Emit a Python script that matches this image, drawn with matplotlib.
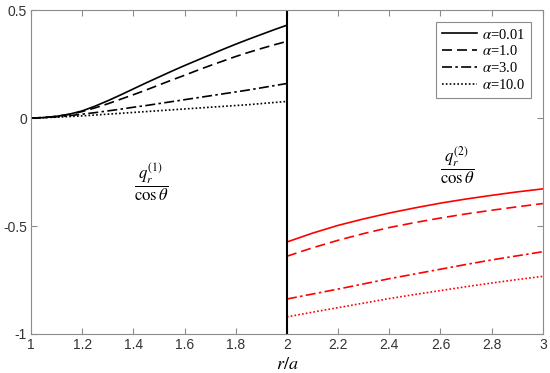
import matplotlib
matplotlib.use("Agg")
import matplotlib.pyplot as plt
import numpy as np

# inner region r/a in [1, 2], read every 0.05
r_in = [1.0, 1.05, 1.1, 1.15, 1.2, 1.25, 1.3, 1.35, 1.4, 1.45, 1.5,
        1.55, 1.6, 1.65, 1.7, 1.75, 1.8, 1.85, 1.9, 1.95, 2.0]
q1_a001 = [0, 0.002, 0.008, 0.018, 0.033, 0.055, 0.080, 0.107, 0.135, 0.163, 0.190,
           0.217, 0.243, 0.268, 0.293, 0.318, 0.342, 0.365, 0.387, 0.409, 0.430]
q1_a1 = [0, 0.002, 0.008, 0.017, 0.030, 0.047, 0.066, 0.087, 0.108, 0.130, 0.153,
         0.176, 0.198, 0.221, 0.243, 0.264, 0.285, 0.304, 0.322, 0.339, 0.355]
q1_a3 = [0, 0.002, 0.006, 0.011, 0.018, 0.025, 0.033, 0.041, 0.050, 0.058, 0.067,
         0.076, 0.085, 0.094, 0.103, 0.112, 0.121, 0.130, 0.140, 0.150, 0.160]
q1_a10 = [0, 0.002, 0.004, 0.007, 0.010, 0.014, 0.018, 0.022, 0.026, 0.030, 0.034,
          0.038, 0.042, 0.046, 0.050, 0.054, 0.058, 0.062, 0.067, 0.072, 0.077]

# outer region r/a in [2, 3]
r_out = [2.0, 2.1, 2.2, 2.3, 2.4, 2.5, 2.6, 2.7, 2.8, 2.9, 3.0]
q2_a001 = [-0.574, -0.533, -0.497, -0.467, -0.440, -0.416, -0.394, -0.375, -0.358, -0.342, -0.328]
q2_a1 = [-0.640, -0.601, -0.566, -0.535, -0.507, -0.484, -0.463, -0.444, -0.427, -0.411, -0.396]
q2_a3 = [-0.838, -0.815, -0.792, -0.768, -0.744, -0.722, -0.700, -0.678, -0.657, -0.638, -0.619]
q2_a10 = [-0.921, -0.899, -0.878, -0.857, -0.836, -0.817, -0.799, -0.781, -0.764, -0.748, -0.733]

alphas = ["0.01", "1.0", "3.0", "10.0"]
inner = [q1_a001, q1_a1, q1_a3, q1_a10]
outer = [q2_a001, q2_a1, q2_a3, q2_a10]
styles = ["-", (0, (6, 3)), (0, (6, 2, 1.5, 2)), (0, (1, 1.3))]

plt.rcParams["mathtext.fontset"] = "stix"

fig = plt.figure(figsize=(5.5, 3.73), dpi=100)
ax = fig.add_axes([0.0564, 0.1046, 0.9306, 0.8684])

for a, ls, y1, y2 in zip(alphas, styles, inner, outer):
    ax.plot(r_in, y1, color="black", ls=ls, lw=1.2, label=r"$\alpha$=" + a)
    ax.plot(r_out, y2, color="red", ls=ls, lw=1.2)

ax.axvline(2.0, color="black", lw=1.5)

ax.set_xlim(1, 3)
ax.set_ylim(-1, 0.5)
ax.set_xticks(np.arange(1, 3.01, 0.2))
ax.set_xticklabels(["1", "1.2", "1.4", "1.6", "1.8", "2", "2.2", "2.4", "2.6", "2.8", "3"])
ax.set_yticks([-1, -0.5, 0, 0.5])
ax.set_yticklabels(["-1", "-0.5", "0", "0.5"])

grey = "#8c8c8c"
for s in ax.spines.values():
    s.set_color(grey)
    s.set_linewidth(0.8)
ax.tick_params(direction="in", length=4, width=0.8, color=grey,
               top=True, right=True, labelsize=10, labelcolor="#333333", pad=3)
for lab in ax.get_xticklabels() + ax.get_yticklabels():
    lab.set_family("Liberation Sans")

ax.set_xlabel(r"$r/a$", fontsize=13, labelpad=2)

ax.text(1.469, -0.298, r"$\dfrac{q_r^{(1)}}{\cos\theta}$", fontsize=12,
        ha="center", va="center")
ax.text(2.666, -0.221, r"$\dfrac{q_r^{(2)}}{\cos\theta}$", fontsize=12,
        ha="center", va="center")

leg = ax.legend(loc="upper right", handlelength=2.4, handletextpad=0.35,
                borderpad=0.4, labelspacing=0.2, fancybox=False, framealpha=1,
                borderaxespad=0.8,
                prop={"family": "Liberation Serif", "size": 10.5})
leg.get_frame().set_edgecolor(grey)
leg.get_frame().set_linewidth(0.8)

fig.savefig("out.png", dpi=100)
